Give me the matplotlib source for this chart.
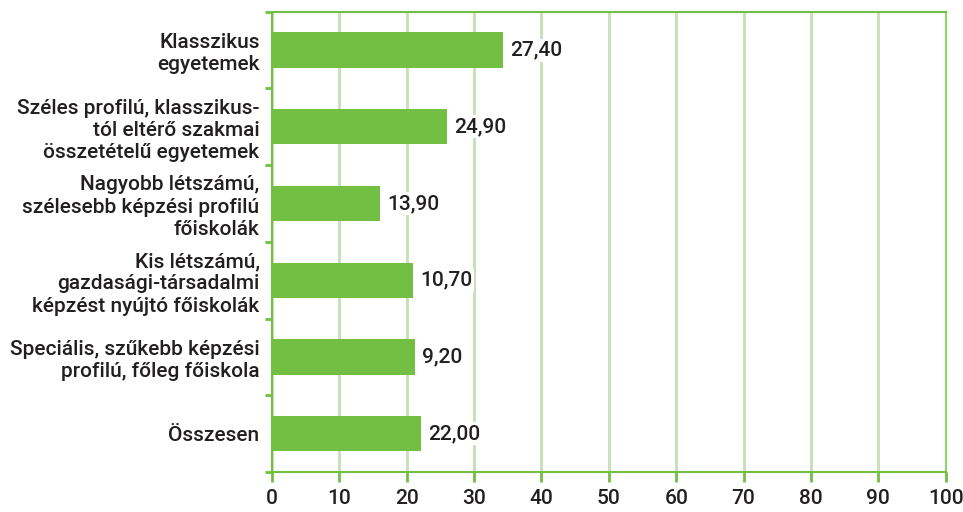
import numpy as np
import matplotlib
matplotlib.use('Agg')
from matplotlib import pyplot as plt

categories = ['Klasszikus\negyetemek',
              'Széles profilú, klasszikus-\ntól eltérő szakmai\nösszetételű egyetemek',
              'Nagyobb létszámú,\nszélesebb képzési profilú\nfőiskolák',
              'Kis létszámú,\ngazdasági-társadalmi\nképzést nyújtó főiskolák',
              'Speciális, szűkebb képzési\nprofilú, főleg főiskola',
              'Összesen']
# bar lengths as drawn in the source picture
bar_values = [34.3, 25.9, 16.0, 20.9, 21.2, 22.1]
# value labels as printed in the source picture
value_labels = ['27,40', '24,90', '13,90', '10,70', '9,20', '22,00']
xticks = np.arange(0, 101, 10)

green = '#72bf44'
grid_green = '#c5e0b4'
txt = '#231f20'
fs = 15
plt.rcParams['font.family'] = ['Roboto', 'DejaVu Sans']
plt.rcParams['font.weight'] = 'medium'

fig = plt.figure(figsize=(9.63, 5.12), dpi=100)
ax = fig.add_axes([0.2825, 0.078, 0.6995, 0.899])

y = np.arange(len(categories))
ax.barh(y, bar_values, height=0.46, color=green, zorder=3)
for yi, v, lab in zip(y, bar_values, value_labels):
    ax.text(v + 1.1, yi, lab, va='center', ha='left', fontsize=fs,
            color=txt, zorder=4,
            bbox=dict(facecolor='white', edgecolor='none', pad=1.5))

ax.set_xlim(0, 100)
ax.set_ylim(len(categories) - 0.5, -0.5)
ax.set_xticks(xticks)
ax.set_xticklabels([str(t) for t in xticks], fontsize=fs, color=txt)
ax.set_yticks(y)
ax.set_yticklabels(categories, fontsize=fs, color=txt, linespacing=1.22)
ax.tick_params(axis='y', length=0, pad=9)
ax.tick_params(axis='x', length=7, width=2, color=green, pad=5)
# minor ticks at category boundaries
ax.set_yticks(np.arange(-0.5, len(categories), 1), minor=True)
ax.tick_params(axis='y', which='minor', length=5, width=2, color=green)

ax.xaxis.grid(True, color=grid_green, linewidth=2, zorder=0)
for s in ['left', 'bottom', 'top', 'right']:
    ax.spines[s].set_color(green)
    ax.spines[s].set_linewidth(1.5)
ax.spines['right'].set_color('#8fd16a')

fig.savefig('out.png', dpi=100)
